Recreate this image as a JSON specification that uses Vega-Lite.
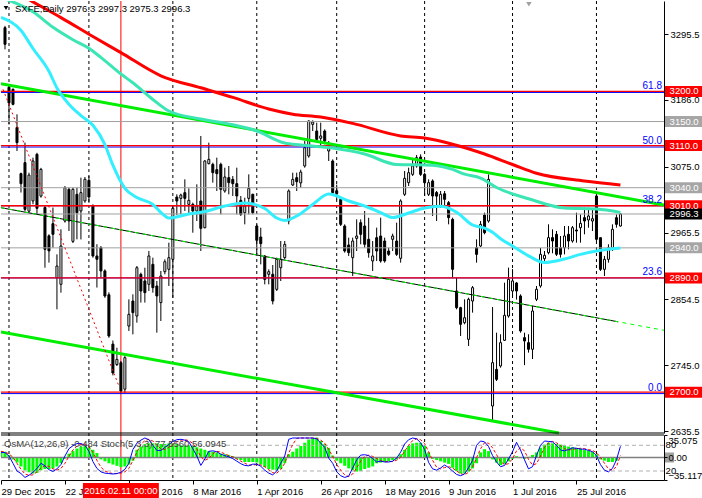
{
  "$schema": "https://vega.github.io/schema/vega-lite/v6.json",
  "background": "white",
  "padding": 0,
  "width": 663,
  "height": 479,
  "config": {
    "view": {"stroke": null},
    "scale": {"continuousPadding": 0},
    "axis": {"labelFont": "Liberation Sans", "labelFontSize": 9.5, "labelColor": "#000000", "tickColor": "#000000", "domainColor": "#000000", "grid": false},
    "text": {"font": "Liberation Sans", "fontSize": 9.5}
  },
  "datasets": {
    "months": [{"i": 0}, {"i": 20}, {"i": 41}, {"i": 62}, {"i": 82}, {"i": 104}, {"i": 126}, {"i": 147}],
    "candles": [
      {"i": -1, "o": 3306, "h": 3309, "l": 3270, "c": 3278.4},
      {"i": 0, "o": 3207, "h": 3212, "l": 3145, "c": 3181},
      {"i": 1, "o": 3203.6, "h": 3205, "l": 3177, "c": 3178.6},
      {"i": 2, "o": 3140, "h": 3162, "l": 3101, "c": 3115},
      {"i": 3, "o": 3063.4, "h": 3065, "l": 3032, "c": 3046.7},
      {"i": 4, "o": 3081.6, "h": 3115, "l": 3001, "c": 3004},
      {"i": 5, "o": 3001, "h": 3065, "l": 2998.5, "c": 3061},
      {"i": 6, "o": 3018, "h": 3090, "l": 3012.4, "c": 3084.4},
      {"i": 7, "o": 3095.5, "h": 3098, "l": 2995.7, "c": 3005.7},
      {"i": 8, "o": 3026, "h": 3073, "l": 3023.5, "c": 3070.5},
      {"i": 9, "o": 3007, "h": 3009.6, "l": 2907, "c": 2937.5},
      {"i": 10, "o": 2960, "h": 2962.5, "l": 2915.4, "c": 2935},
      {"i": 11, "o": 2980.2, "h": 3007, "l": 2940.4, "c": 2962.5},
      {"i": 12, "o": 2890.4, "h": 2929.2, "l": 2837.8, "c": 2909.8},
      {"i": 13, "o": 2879.4, "h": 2970.8, "l": 2865.5, "c": 2943.1},
      {"i": 14, "o": 2984.6, "h": 3042.8, "l": 2982, "c": 3040},
      {"i": 15, "o": 3037.3, "h": 3040, "l": 2968, "c": 2984.6},
      {"i": 16, "o": 2950.8, "h": 3040, "l": 2948, "c": 3037.3},
      {"i": 17, "o": 3029, "h": 3040, "l": 2954.2, "c": 2998.5},
      {"i": 18, "o": 3001.3, "h": 3056.7, "l": 2954, "c": 3031.8},
      {"i": 19, "o": 3018, "h": 3057.8, "l": 3015, "c": 3054},
      {"i": 20, "o": 3052.3, "h": 3059.5, "l": 3015, "c": 3024.5},
      {"i": 21, "o": 3009.6, "h": 3012.4, "l": 2923.7, "c": 2926.5},
      {"i": 22, "o": 2926.5, "h": 2946, "l": 2874, "c": 2921},
      {"i": 23, "o": 2940.3, "h": 2943, "l": 2890, "c": 2901.6},
      {"i": 24, "o": 2901.6, "h": 2904.3, "l": 2857, "c": 2860},
      {"i": 25, "o": 2862, "h": 2866, "l": 2790.5, "c": 2793.5},
      {"i": 26, "o": 2780, "h": 2786, "l": 2728, "c": 2732},
      {"i": 27, "o": 2746, "h": 2774, "l": 2743.6, "c": 2754.6},
      {"i": 28, "o": 2749, "h": 2752, "l": 2698, "c": 2702},
      {"i": 29, "o": 2705, "h": 2760, "l": 2699, "c": 2757.4},
      {"i": 30, "o": 2810, "h": 2854.4, "l": 2801.8, "c": 2829.5},
      {"i": 31, "o": 2851.6, "h": 2862.7, "l": 2796.2, "c": 2832.3},
      {"i": 32, "o": 2826.7, "h": 2909.8, "l": 2815.6, "c": 2907},
      {"i": 33, "o": 2896, "h": 2898.8, "l": 2849, "c": 2868.3},
      {"i": 34, "o": 2885, "h": 2907, "l": 2849, "c": 2865.5},
      {"i": 35, "o": 2879.4, "h": 2934.8, "l": 2868.3, "c": 2926.5},
      {"i": 36, "o": 2912.6, "h": 2923.7, "l": 2865.5, "c": 2873.8},
      {"i": 37, "o": 2876.6, "h": 2885, "l": 2799, "c": 2860},
      {"i": 38, "o": 2849, "h": 2901.6, "l": 2818.4, "c": 2893.2},
      {"i": 39, "o": 2900.4, "h": 2920.9, "l": 2896, "c": 2917},
      {"i": 40, "o": 2904.3, "h": 2948.6, "l": 2876.6, "c": 2923.7},
      {"i": 41, "o": 2920.9, "h": 3009.6, "l": 2857.2, "c": 3005.7},
      {"i": 42, "o": 3024.5, "h": 3029, "l": 2994.6, "c": 3017.9},
      {"i": 43, "o": 3022.3, "h": 3030, "l": 2995.7, "c": 3027.9},
      {"i": 44, "o": 3031.7, "h": 3053.9, "l": 3001.3, "c": 3022.3},
      {"i": 45, "o": 3012.3, "h": 3038.9, "l": 2995.7, "c": 3019},
      {"i": 46, "o": 3012.3, "h": 3015.1, "l": 2965.2, "c": 3001.3},
      {"i": 47, "o": 3001.3, "h": 3045.6, "l": 2984.6, "c": 3009.6},
      {"i": 48, "o": 3017.9, "h": 3126, "l": 2934.8, "c": 2972.4},
      {"i": 49, "o": 2973.5, "h": 3086, "l": 2972.4, "c": 3084.4},
      {"i": 50, "o": 3080, "h": 3114.9, "l": 3078.8, "c": 3087.1},
      {"i": 51, "o": 3078.8, "h": 3081.6, "l": 3048.4, "c": 3065},
      {"i": 52, "o": 3070, "h": 3090, "l": 3034.5, "c": 3063.3},
      {"i": 53, "o": 3078.8, "h": 3081.6, "l": 2995.7, "c": 3037.3},
      {"i": 54, "o": 3034.5, "h": 3073.3, "l": 3031.7, "c": 3057.8},
      {"i": 55, "o": 3056.7, "h": 3076.1, "l": 3029, "c": 3048.4},
      {"i": 56, "o": 3053.9, "h": 3059.4, "l": 3026.2, "c": 3046.7},
      {"i": 57, "o": 3046.7, "h": 3073.3, "l": 2995.7, "c": 3026.2},
      {"i": 58, "o": 3019, "h": 3026.2, "l": 2993, "c": 2995.7},
      {"i": 59, "o": 2998.5, "h": 3023.4, "l": 2979.1, "c": 3009.6},
      {"i": 60, "o": 3022.3, "h": 3062.2, "l": 2995.7, "c": 3038.9},
      {"i": 61, "o": 3029, "h": 3030, "l": 2995.7, "c": 2998.5},
      {"i": 62, "o": 2976.3, "h": 2979.1, "l": 2929.2, "c": 2952.5},
      {"i": 63, "o": 2958, "h": 2973.5, "l": 2912.6, "c": 2947},
      {"i": 64, "o": 2926.4, "h": 2928, "l": 2879.3, "c": 2887.6},
      {"i": 65, "o": 2896, "h": 2904.3, "l": 2879.3, "c": 2900.4},
      {"i": 66, "o": 2896, "h": 2911.5, "l": 2846, "c": 2851.6},
      {"i": 67, "o": 2871, "h": 2923.7, "l": 2868.3, "c": 2920.9},
      {"i": 68, "o": 2907, "h": 2951.4, "l": 2884.9, "c": 2920.9},
      {"i": 69, "o": 2923.7, "h": 2951.4, "l": 2920.9, "c": 2945.8},
      {"i": 70, "o": 2984.6, "h": 3037.3, "l": 2979.1, "c": 3034.5},
      {"i": 71, "o": 3044.5, "h": 3065, "l": 3042.8, "c": 3053.9},
      {"i": 72, "o": 3056.7, "h": 3065, "l": 3034.5, "c": 3050},
      {"i": 73, "o": 3048, "h": 3070, "l": 3040, "c": 3066},
      {"i": 74, "o": 3076.1, "h": 3117.6, "l": 3073.3, "c": 3106.5},
      {"i": 75, "o": 3092.7, "h": 3152, "l": 3089.9, "c": 3150.9},
      {"i": 76, "o": 3145.3, "h": 3152, "l": 3134.3, "c": 3149.2},
      {"i": 77, "o": 3134.3, "h": 3148.1, "l": 3117.6, "c": 3120.4},
      {"i": 78, "o": 3122.1, "h": 3148.1, "l": 3109.3, "c": 3126},
      {"i": 79, "o": 3134.3, "h": 3137, "l": 3112.1, "c": 3117.6},
      {"i": 80, "o": 3101, "h": 3117.6, "l": 3084.4, "c": 3106.5},
      {"i": 81, "o": 3084.4, "h": 3087.1, "l": 3029, "c": 3031.7},
      {"i": 82, "o": 3035, "h": 3045, "l": 3020, "c": 3030},
      {"i": 83, "o": 3020.7, "h": 3023.4, "l": 2976.3, "c": 2979.1},
      {"i": 84, "o": 2976.3, "h": 2979.1, "l": 2932, "c": 2934.8},
      {"i": 85, "o": 2944.8, "h": 2957, "l": 2926.5, "c": 2932},
      {"i": 86, "o": 2923.7, "h": 2957, "l": 2893.2, "c": 2951.4},
      {"i": 87, "o": 2955.8, "h": 2987.4, "l": 2934.8, "c": 2959.7},
      {"i": 88, "o": 2981.9, "h": 2987.4, "l": 2945.9, "c": 2962.5},
      {"i": 89, "o": 2976.3, "h": 3001.3, "l": 2940.3, "c": 2945.9},
      {"i": 90, "o": 2954.2, "h": 2990, "l": 2923.7, "c": 2932},
      {"i": 91, "o": 2918.2, "h": 2951.4, "l": 2901.5, "c": 2926.5},
      {"i": 92, "o": 2956.9, "h": 2973.6, "l": 2918.2, "c": 2934.8},
      {"i": 93, "o": 2959.7, "h": 2990.2, "l": 2915.4, "c": 2918.2},
      {"i": 94, "o": 2951.4, "h": 2957, "l": 2915.4, "c": 2918.2},
      {"i": 95, "o": 2934.8, "h": 2940.3, "l": 2926.5, "c": 2929.2},
      {"i": 96, "o": 2954.2, "h": 2963.6, "l": 2934.8, "c": 2959.7},
      {"i": 97, "o": 2951.4, "h": 2981.9, "l": 2926.5, "c": 2929.2},
      {"i": 98, "o": 2922.6, "h": 3020.7, "l": 2915.4, "c": 3017.9},
      {"i": 99, "o": 3029, "h": 3067.8, "l": 3026.2, "c": 3055.6},
      {"i": 100, "o": 3048.4, "h": 3073.3, "l": 3042.8, "c": 3065},
      {"i": 101, "o": 3062.2, "h": 3087.2, "l": 3059.5, "c": 3076.1},
      {"i": 102, "o": 3076.1, "h": 3094.4, "l": 3073.3, "c": 3090},
      {"i": 103, "o": 3091, "h": 3095.5, "l": 3059.5, "c": 3062.2},
      {"i": 104, "o": 3062.2, "h": 3065, "l": 3026.2, "c": 3048.4},
      {"i": 105, "o": 3029, "h": 3053.9, "l": 3026.2, "c": 3048.4},
      {"i": 106, "o": 3051.2, "h": 3053.9, "l": 2993, "c": 3026.2},
      {"i": 107, "o": 3032, "h": 3034.5, "l": 2984.6, "c": 3026},
      {"i": 108, "o": 3009.6, "h": 3034.5, "l": 3006.8, "c": 3029},
      {"i": 109, "o": 3030, "h": 3034.5, "l": 3009.6, "c": 3020.7},
      {"i": 110, "o": 3015.1, "h": 3017.9, "l": 2979.1, "c": 2990.2},
      {"i": 111, "o": 2987.4, "h": 2990.2, "l": 2890.4, "c": 2904.3},
      {"i": 112, "o": 2868.3, "h": 2890.4, "l": 2837.8, "c": 2840.6},
      {"i": 113, "o": 2840.6, "h": 2842, "l": 2793.5, "c": 2812.9},
      {"i": 114, "o": 2815.6, "h": 2854.4, "l": 2812.9, "c": 2823.9},
      {"i": 115, "o": 2787.9, "h": 2857.2, "l": 2776.9, "c": 2854.4},
      {"i": 116, "o": 2851.6, "h": 2876.6, "l": 2832.3, "c": 2873.8},
      {"i": 117, "o": 2940.3, "h": 2954.2, "l": 2915.4, "c": 2929.2},
      {"i": 118, "o": 2943.1, "h": 2984.6, "l": 2941.4, "c": 2979.1},
      {"i": 119, "o": 2994.6, "h": 2998.5, "l": 2962.5, "c": 2965.2},
      {"i": 120, "o": 2984.6, "h": 3062.2, "l": 2981.9, "c": 3053.9},
      {"i": 121, "o": 2677.1, "h": 2841.7, "l": 2652.2, "c": 2749.1},
      {"i": 122, "o": 2738, "h": 2799, "l": 2718.6, "c": 2721.4},
      {"i": 123, "o": 2743.6, "h": 2796.3, "l": 2740.8, "c": 2782.4},
      {"i": 124, "o": 2786.3, "h": 2882.1, "l": 2785.2, "c": 2827.8},
      {"i": 125, "o": 2826.7, "h": 2907.1, "l": 2824, "c": 2887.7},
      {"i": 126, "o": 2868.3, "h": 2904.8, "l": 2860, "c": 2885},
      {"i": 127, "o": 2881.6, "h": 2883.3, "l": 2854, "c": 2868.3},
      {"i": 128, "o": 2860, "h": 2862.7, "l": 2799, "c": 2801.8},
      {"i": 129, "o": 2790.7, "h": 2799, "l": 2745, "c": 2785.2},
      {"i": 130, "o": 2782.4, "h": 2796.3, "l": 2765.8, "c": 2771.4},
      {"i": 131, "o": 2771.4, "h": 2843.3, "l": 2755.2, "c": 2835},
      {"i": 132, "o": 2854.5, "h": 2876.6, "l": 2851.6, "c": 2871.1},
      {"i": 133, "o": 2876.6, "h": 2940, "l": 2873.8, "c": 2929.3},
      {"i": 134, "o": 2922, "h": 2934.8, "l": 2918.2, "c": 2927.6},
      {"i": 135, "o": 2932, "h": 2979.1, "l": 2929.3, "c": 2957},
      {"i": 136, "o": 2957, "h": 2970.8, "l": 2931, "c": 2951.4},
      {"i": 137, "o": 2962.5, "h": 2968, "l": 2926.5, "c": 2929.3},
      {"i": 138, "o": 2940.3, "h": 2959.7, "l": 2923.7, "c": 2929.2},
      {"i": 139, "o": 2940.3, "h": 2976.3, "l": 2929.2, "c": 2959.7},
      {"i": 140, "o": 2962.5, "h": 2976.3, "l": 2937.6, "c": 2951.4},
      {"i": 141, "o": 2951.4, "h": 2976.3, "l": 2948.6, "c": 2973.5},
      {"i": 142, "o": 2969.7, "h": 2998.5, "l": 2948.6, "c": 2968},
      {"i": 143, "o": 2973.5, "h": 2995.7, "l": 2948.6, "c": 2980.8},
      {"i": 144, "o": 2990.2, "h": 3006.8, "l": 2962.5, "c": 2984.6},
      {"i": 145, "o": 2986.3, "h": 3006.8, "l": 2973.5, "c": 2993},
      {"i": 146, "o": 2984.6, "h": 3004, "l": 2968, "c": 2988.5},
      {"i": 147, "o": 3026.2, "h": 3029, "l": 2951.4, "c": 2954.2},
      {"i": 148, "o": 2956.9, "h": 2957, "l": 2901.5, "c": 2904.3},
      {"i": 149, "o": 2904.3, "h": 2926.5, "l": 2893.2, "c": 2920.9},
      {"i": 150, "o": 2920.9, "h": 2945.9, "l": 2915.4, "c": 2940.3},
      {"i": 151, "o": 2940.3, "h": 2979.1, "l": 2934.8, "c": 2970.8},
      {"i": 152, "o": 2990.2, "h": 2995.7, "l": 2973.5, "c": 2979.1},
      {"i": 153, "o": 2976.3, "h": 2997.3, "l": 2975.3, "c": 2996.3}
    ],
    "ma": [
      {"ma": "slow", "i": -2, "p": 3379.5}, {"ma": "slow", "i": 6, "p": 3349}, {"ma": "slow", "i": 13, "p": 3322.8},
      {"ma": "slow", "i": 21, "p": 3291.4}, {"ma": "slow", "i": 28, "p": 3264.6}, {"ma": "slow", "i": 38, "p": 3226.1},
      {"ma": "slow", "i": 48, "p": 3206.1}, {"ma": "slow", "i": 56, "p": 3190.1}, {"ma": "slow", "i": 65, "p": 3170.8},
      {"ma": "slow", "i": 71, "p": 3162.2}, {"ma": "slow", "i": 78, "p": 3157.5}, {"ma": "slow", "i": 86, "p": 3146.9},
      {"ma": "slow", "i": 98, "p": 3126.1}, {"ma": "slow", "i": 104, "p": 3122.6}, {"ma": "slow", "i": 111, "p": 3112.3},
      {"ma": "slow", "i": 119, "p": 3096}, {"ma": "slow", "i": 126, "p": 3078.6}, {"ma": "slow", "i": 132, "p": 3064},
      {"ma": "slow", "i": 144, "p": 3051.2}, {"ma": "slow", "i": 153, "p": 3044.5},
      {"ma": "mid", "i": -2, "p": 3356.2}, {"ma": "mid", "i": 6, "p": 3332.4}, {"ma": "mid", "i": 11, "p": 3306.7},
      {"ma": "mid", "i": 16, "p": 3286.1}, {"ma": "mid", "i": 20, "p": 3271.9}, {"ma": "mid", "i": 23, "p": 3256.6},
      {"ma": "mid", "i": 28, "p": 3229}, {"ma": "mid", "i": 31, "p": 3214.4}, {"ma": "mid", "i": 36, "p": 3186.6},
      {"ma": "mid", "i": 40, "p": 3167.5}, {"ma": "mid", "i": 48, "p": 3154.2}, {"ma": "mid", "i": 56, "p": 3144.6},
      {"ma": "mid", "i": 62, "p": 3134.3}, {"ma": "mid", "i": 69, "p": 3114.2}, {"ma": "mid", "i": 73, "p": 3111},
      {"ma": "mid", "i": 81, "p": 3106}, {"ma": "mid", "i": 89, "p": 3096}, {"ma": "mid", "i": 97, "p": 3078.6},
      {"ma": "mid", "i": 106, "p": 3077.4}, {"ma": "mid", "i": 111, "p": 3070.4}, {"ma": "mid", "i": 114, "p": 3062.5},
      {"ma": "mid", "i": 118, "p": 3056.1}, {"ma": "mid", "i": 122, "p": 3040.3}, {"ma": "mid", "i": 130, "p": 3021.7},
      {"ma": "mid", "i": 139, "p": 3006.3}, {"ma": "mid", "i": 147, "p": 3004.6}, {"ma": "mid", "i": 153, "p": 2999},
      {"ma": "fast", "i": -2, "p": 3323}, {"ma": "fast", "i": 3, "p": 3301.4}, {"ma": "fast", "i": 6, "p": 3271.4},
      {"ma": "fast", "i": 10, "p": 3233.7}, {"ma": "fast", "i": 12, "p": 3205.8}, {"ma": "fast", "i": 15, "p": 3178.8},
      {"ma": "fast", "i": 18, "p": 3159.9}, {"ma": "fast", "i": 21, "p": 3143.8}, {"ma": "fast", "i": 24, "p": 3111.8},
      {"ma": "fast", "i": 26, "p": 3077.4}, {"ma": "fast", "i": 29, "p": 3039}, {"ma": "fast", "i": 32, "p": 3023.7},
      {"ma": "fast", "i": 36, "p": 3012.1}, {"ma": "fast", "i": 38, "p": 2998.8}, {"ma": "fast", "i": 40, "p": 2989.6},
      {"ma": "fast", "i": 45, "p": 2996.3}, {"ma": "fast", "i": 49, "p": 3000.4}, {"ma": "fast", "i": 54, "p": 3009.6},
      {"ma": "fast", "i": 59, "p": 3014.6}, {"ma": "fast", "i": 61, "p": 3012.9}, {"ma": "fast", "i": 64, "p": 3005.4},
      {"ma": "fast", "i": 67, "p": 2989.6}, {"ma": "fast", "i": 69, "p": 2985.5}, {"ma": "fast", "i": 72, "p": 2993},
      {"ma": "fast", "i": 76, "p": 3012.1}, {"ma": "fast", "i": 80, "p": 3029.5}, {"ma": "fast", "i": 85, "p": 3017.9},
      {"ma": "fast", "i": 89, "p": 3009.6}, {"ma": "fast", "i": 93, "p": 2998.6}, {"ma": "fast", "i": 96, "p": 2990.5},
      {"ma": "fast", "i": 100, "p": 2998}, {"ma": "fast", "i": 104, "p": 3006.3}, {"ma": "fast", "i": 108, "p": 3009.1},
      {"ma": "fast", "i": 112, "p": 2999.3}, {"ma": "fast", "i": 116, "p": 2978}, {"ma": "fast", "i": 119, "p": 2973},
      {"ma": "fast", "i": 121, "p": 2965.9}, {"ma": "fast", "i": 123, "p": 2955.2}, {"ma": "fast", "i": 126, "p": 2943.1},
      {"ma": "fast", "i": 130, "p": 2926.8}, {"ma": "fast", "i": 134, "p": 2915.7}, {"ma": "fast", "i": 139, "p": 2921.5},
      {"ma": "fast", "i": 143, "p": 2929.1}, {"ma": "fast", "i": 147, "p": 2934.8}, {"ma": "fast", "i": 153, "p": 2939.8}
    ],
    "trend": [
      {"line": "upper", "i": -2, "p": 3212.9}, {"line": "upper", "i": 163.9, "p": 3011.3},
      {"line": "lower", "i": -2, "p": 2800.1}, {"line": "lower", "i": 137.6, "p": 2632.2},
      {"line": "mid", "i": -2, "p": 3006.8}, {"line": "mid", "i": 163.9, "p": 2803},
      {"line": "midblack", "i": -2, "p": 3006.8}, {"line": "midblack", "i": 152.4, "p": 2817.1},
      {"line": "fibbase", "i": -1.5, "p": 3203.6}, {"line": "fibbase", "i": 27.6, "p": 2708.6}
    ],
    "levels": [
      {"kind": "grey", "p": 3150}, {"kind": "grey", "p": 3040}, {"kind": "grey", "p": 2996.3}, {"kind": "grey", "p": 2940},
      {"kind": "fib", "p": 3198.4}, {"kind": "fib", "p": 3107.6}, {"kind": "fib", "p": 3010}, {"kind": "fib", "p": 2890}, {"kind": "fib", "p": 2697.7},
      {"kind": "red", "p": 3200}, {"kind": "red", "p": 3110}, {"kind": "red", "p": 3010}, {"kind": "red", "p": 2890}, {"kind": "red", "p": 2700}
    ],
    "fiblabels": [
      {"p": 3198.4, "lab": "61.8"}, {"p": 3107.6, "lab": "50.0"}, {"p": 3010, "lab": "38.2"}, {"p": 2890, "lab": "23.6"}, {"p": 2697.7, "lab": "0.0"}
    ],
    "boxes": [
      {"p": 3200, "lab": "3200.0", "kind": "res"}, {"p": 3150, "lab": "3150.0", "kind": "lvl"},
      {"p": 3110, "lab": "3110.0", "kind": "res"}, {"p": 3040, "lab": "3040.0", "kind": "lvl"},
      {"p": 3010, "lab": "3010.0", "kind": "res"}, {"p": 2996.3, "lab": "2996.3", "kind": "bid"},
      {"p": 2940, "lab": "2940.0", "kind": "lvl"}, {"p": 2890, "lab": "2890.0", "kind": "res"},
      {"p": 2700, "lab": "2700.0", "kind": "res"}
    ],
    "osc": [
      {"i": -2, "o": 10, "m": 63, "s": 66}, {"i": -1, "o": 9, "m": 63, "s": 64}, {"i": 0, "o": 4, "m": 55, "s": 60},
      {"i": 1, "o": -3, "m": 38, "s": 52}, {"i": 2, "o": -8, "m": 20, "s": 38}, {"i": 3, "o": -14, "m": 14, "s": 24},
      {"i": 4, "o": -20, "m": 5, "s": 13}, {"i": 5, "o": -23, "m": 10, "s": 10}, {"i": 6, "o": -25, "m": 17, "s": 11},
      {"i": 7, "o": -24, "m": 26, "s": 18}, {"i": 8, "o": -20, "m": 38, "s": 27}, {"i": 9, "o": -18, "m": 32, "s": 32},
      {"i": 10, "o": -18, "m": 23, "s": 31}, {"i": 11, "o": -17, "m": 19, "s": 25}, {"i": 12, "o": -14, "m": 25, "s": 22},
      {"i": 13, "o": -9, "m": 35, "s": 26}, {"i": 14, "o": -2, "m": 55, "s": 38}, {"i": 15, "o": 6, "m": 72, "s": 54},
      {"i": 16, "o": 10, "m": 79, "s": 69}, {"i": 17, "o": 14, "m": 84, "s": 78}, {"i": 18, "o": 17, "m": 84, "s": 82},
      {"i": 19, "o": 18, "m": 80, "s": 83}, {"i": 20, "o": 16, "m": 66, "s": 77}, {"i": 21, "o": 12, "m": 42, "s": 63},
      {"i": 22, "o": 7, "m": 26, "s": 45}, {"i": 23, "o": -3, "m": 18, "s": 29}, {"i": 24, "o": -6, "m": 15, "s": 20},
      {"i": 25, "o": -9, "m": 14, "s": 16}, {"i": 26, "o": -11, "m": 13, "s": 14}, {"i": 27, "o": -13, "m": 14, "s": 14},
      {"i": 28, "o": -15, "m": 17, "s": 15}, {"i": 29, "o": -14, "m": 24, "s": 18}, {"i": 30, "o": -11, "m": 38, "s": 26},
      {"i": 31, "o": -5, "m": 70, "s": 44}, {"i": 32, "o": 12, "m": 85, "s": 64}, {"i": 33, "o": 17, "m": 92, "s": 82},
      {"i": 34, "o": 21, "m": 97, "s": 91}, {"i": 35, "o": 22, "m": 93, "s": 94}, {"i": 36, "o": 22, "m": 80, "s": 90},
      {"i": 37, "o": 22, "m": 68, "s": 80}, {"i": 38, "o": 21, "m": 68, "s": 72}, {"i": 39, "o": 21, "m": 75, "s": 70},
      {"i": 40, "o": 22, "m": 82, "s": 75}, {"i": 41, "o": 22, "m": 89, "s": 82}, {"i": 42, "o": 21, "m": 93, "s": 88},
      {"i": 43, "o": 19, "m": 94, "s": 92}, {"i": 44, "o": 19, "m": 92, "s": 93}, {"i": 45, "o": 19, "m": 88, "s": 91},
      {"i": 46, "o": 18, "m": 72, "s": 84}, {"i": 47, "o": 16, "m": 55, "s": 72}, {"i": 48, "o": 14, "m": 33, "s": 53},
      {"i": 49, "o": 12, "m": 48, "s": 45}, {"i": 50, "o": 10, "m": 66, "s": 49}, {"i": 51, "o": 9, "m": 67, "s": 60},
      {"i": 52, "o": 8, "m": 65, "s": 66}, {"i": 53, "o": 6, "m": 59, "s": 64}, {"i": 54, "o": 5, "m": 56, "s": 60},
      {"i": 55, "o": 4, "m": 53, "s": 56}, {"i": 56, "o": 2, "m": 49, "s": 53}, {"i": 57, "o": -2, "m": 43, "s": 48},
      {"i": 58, "o": -4, "m": 37, "s": 43}, {"i": 59, "o": -7, "m": 33, "s": 38}, {"i": 60, "o": -7, "m": 32, "s": 34},
      {"i": 61, "o": -7, "m": 36, "s": 34}, {"i": 62, "o": -8, "m": 36, "s": 35}, {"i": 63, "o": -11, "m": 31, "s": 34},
      {"i": 64, "o": -15, "m": 22, "s": 30}, {"i": 65, "o": -18, "m": 15, "s": 23}, {"i": 66, "o": -19, "m": 11, "s": 16},
      {"i": 67, "o": -20, "m": 20, "s": 15}, {"i": 68, "o": -18, "m": 38, "s": 23}, {"i": 69, "o": -9, "m": 55, "s": 38},
      {"i": 70, "o": 5, "m": 94, "s": 62}, {"i": 71, "o": 9, "m": 97, "s": 82}, {"i": 72, "o": 14, "m": 97, "s": 96},
      {"i": 73, "o": 18, "m": 97, "s": 97}, {"i": 74, "o": 23, "m": 97, "s": 97}, {"i": 75, "o": 28, "m": 97, "s": 97},
      {"i": 76, "o": 30, "m": 97, "s": 97}, {"i": 77, "o": 31, "m": 95, "s": 96}, {"i": 78, "o": 26, "m": 85, "s": 92},
      {"i": 79, "o": 21, "m": 75, "s": 85}, {"i": 80, "o": 15, "m": 50, "s": 70}, {"i": 81, "o": 3, "m": 38, "s": 54},
      {"i": 82, "o": -5, "m": 18, "s": 35}, {"i": 83, "o": -9, "m": 9, "s": 22}, {"i": 84, "o": -13, "m": 5, "s": 11},
      {"i": 85, "o": -17, "m": 8, "s": 7}, {"i": 86, "o": -20, "m": 27, "s": 13}, {"i": 87, "o": -22, "m": 46, "s": 27},
      {"i": 88, "o": -21, "m": 57, "s": 43}, {"i": 89, "o": -18, "m": 58, "s": 54}, {"i": 90, "o": -16, "m": 56, "s": 57},
      {"i": 91, "o": -14, "m": 49, "s": 54}, {"i": 92, "o": -9, "m": 41, "s": 49}, {"i": 93, "o": -8, "m": 43, "s": 44},
      {"i": 94, "o": -7, "m": 41, "s": 42}, {"i": 95, "o": -6, "m": 41, "s": 42}, {"i": 96, "o": -4, "m": 43, "s": 42},
      {"i": 97, "o": -3, "m": 50, "s": 45}, {"i": 98, "o": 5, "m": 64, "s": 52}, {"i": 99, "o": 12, "m": 83, "s": 66},
      {"i": 100, "o": 18, "m": 93, "s": 80}, {"i": 101, "o": 22, "m": 97, "s": 91}, {"i": 102, "o": 23, "m": 95, "s": 95},
      {"i": 103, "o": 23, "m": 86, "s": 93}, {"i": 104, "o": 18, "m": 70, "s": 84}, {"i": 105, "o": 8, "m": 40, "s": 65},
      {"i": 106, "o": -2, "m": 25, "s": 45}, {"i": 107, "o": -4, "m": 22, "s": 29}, {"i": 108, "o": -6, "m": 27, "s": 25},
      {"i": 109, "o": -8, "m": 34, "s": 28}, {"i": 110, "o": -10, "m": 28, "s": 30}, {"i": 111, "o": -16, "m": 20, "s": 27},
      {"i": 112, "o": -21, "m": 12, "s": 20}, {"i": 113, "o": -25, "m": 9, "s": 14}, {"i": 114, "o": -25, "m": 13, "s": 11},
      {"i": 115, "o": -22, "m": 28, "s": 17}, {"i": 116, "o": -17, "m": 45, "s": 29}, {"i": 117, "o": -9, "m": 80, "s": 51},
      {"i": 118, "o": 8, "m": 90, "s": 72}, {"i": 119, "o": 13, "m": 88, "s": 86}, {"i": 120, "o": 10, "m": 77, "s": 85},
      {"i": 121, "o": -3, "m": 56, "s": 74}, {"i": 122, "o": -8, "m": 41, "s": 58}, {"i": 123, "o": -12, "m": 30, "s": 42},
      {"i": 124, "o": -10, "m": 33, "s": 35}, {"i": 125, "o": -6, "m": 48, "s": 37}, {"i": 126, "o": -2, "m": 65, "s": 49},
      {"i": 127, "o": 2, "m": 87, "s": 67}, {"i": 128, "o": -1, "m": 69, "s": 74}, {"i": 129, "o": -2, "m": 46, "s": 67},
      {"i": 130, "o": 1, "m": 25, "s": 47}, {"i": 131, "o": 4, "m": 30, "s": 34}, {"i": 132, "o": 8, "m": 56, "s": 37},
      {"i": 133, "o": 15, "m": 80, "s": 55}, {"i": 134, "o": 20, "m": 90, "s": 75}, {"i": 135, "o": 23, "m": 89, "s": 86},
      {"i": 136, "o": 22, "m": 88, "s": 89}, {"i": 137, "o": 21, "m": 80, "s": 86}, {"i": 138, "o": 20, "m": 69, "s": 79},
      {"i": 139, "o": 19, "m": 67, "s": 72}, {"i": 140, "o": 17, "m": 70, "s": 69}, {"i": 141, "o": 16, "m": 74, "s": 70},
      {"i": 142, "o": 15, "m": 73, "s": 72}, {"i": 143, "o": 14, "m": 71, "s": 73}, {"i": 144, "o": 12, "m": 71, "s": 72},
      {"i": 145, "o": 11, "m": 68, "s": 70}, {"i": 146, "o": 9, "m": 65, "s": 68}, {"i": 147, "o": 5, "m": 56, "s": 63},
      {"i": 148, "o": -3, "m": 35, "s": 52}, {"i": 149, "o": -5, "m": 22, "s": 38}, {"i": 150, "o": -7, "m": 18, "s": 25},
      {"i": 151, "o": -7, "m": 26, "s": 22}, {"i": 152, "o": -5, "m": 46, "s": 30}, {"i": 153, "o": -0.484, "m": 77.556, "s": 56.0945}
    ]
  },
  "resolve": {"scale": {"y": "independent"}, "axis": {"y": "independent"}},
  "layer": [
    {
      "layer": [
        {
          "data": {"name": "months"},
          "mark": {"type": "rule", "color": "#000000", "strokeWidth": 1, "strokeDash": [3, 3]},
          "encoding": {
            "x": {
              "field": "i", "type": "quantitative", "title": null,
              "scale": {"domain": [-2, 163.9], "nice": false, "zero": false, "padding": 0},
              "axis": {"orient": "bottom", "values": [-2, 14, 30, 46, 62, 78, 94, 110, 126, 142], "labelExpr": "['29 Dec 2015','22 Jan 2016','15 Feb 2016','8 Mar 2016','1 Apr 2016','26 Apr 2016','18 May 2016','9 Jun 2016','1 Jul 2016','25 Jul 2016'][round((datum.value + 2) / 16)]", "labelAlign": "left", "tickSize": 4, "labelPadding": 2, "domain": true, "zindex": 0, "labelOverlap": false, "labelFlush": false, "labelBound": false}
            }
          }
        },
        {
          "data": {"values": [{"i": 28}]},
          "mark": {"type": "rule", "color": "#ff0000", "strokeWidth": 1},
          "encoding": {"x": {"field": "i", "type": "quantitative", "title": null, "scale": {"domain": [-2, 163.9], "nice": false, "zero": false, "padding": 0}}}
        },
        {
          "data": {"name": "candles"},
          "mark": {"type": "rule", "color": "#000000", "strokeWidth": 1},
          "encoding": {
            "x": {"field": "i", "type": "quantitative", "title": null, "scale": {"domain": [-2, 163.9], "nice": false, "zero": false, "padding": 0}},
            "y": {
              "field": "l", "type": "quantitative", "title": null,
              "scale": {"domain": [2632.2, 3350.4], "range": [432, 0], "nice": false, "zero": false, "padding": 0},
              "axis": {"orient": "right", "values": [3295.5, 3240, 3186, 3130.5, 3075, 3021, 2965.5, 2910, 2854.5, 2800.5, 2745, 2689.5, 2635.5], "format": ".1f", "tickSize": 4, "labelPadding": 2, "zindex": 0, "domain": true, "labelOverlap": false}
            },
            "y2": {"field": "h"}
          }
        },
        {
          "data": {"name": "candles"},
          "mark": {"type": "bar", "width": 2, "stroke": "#000000", "strokeWidth": 1},
          "encoding": {
            "x": {"field": "i", "type": "quantitative", "title": null, "scale": {"domain": [-2, 163.9], "nice": false, "zero": false, "padding": 0}},
            "y": {"field": "o", "type": "quantitative", "title": null, "scale": {"domain": [2632.2, 3350.4], "range": [432, 0], "nice": false, "zero": false, "padding": 0}},
            "y2": {"field": "c"},
            "fill": {"condition": {"test": "datum.c >= datum.o", "value": "#ffffff"}, "value": "#000000"}
          }
        },
        {
          "data": {"name": "levels"},
          "transform": [{"filter": "datum.kind === 'grey'"}],
          "mark": {"type": "rule", "color": "#a0a0a0", "strokeWidth": 1},
          "encoding": {"y": {"field": "p", "type": "quantitative", "title": null, "scale": {"domain": [2632.2, 3350.4], "range": [432, 0], "nice": false, "zero": false, "padding": 0}}}
        },
        {
          "data": {"name": "levels"},
          "transform": [{"filter": "datum.kind === 'fib'"}],
          "mark": {"type": "rule", "color": "#0000ff", "strokeWidth": 1},
          "encoding": {"y": {"field": "p", "type": "quantitative", "title": null, "scale": {"domain": [2632.2, 3350.4], "range": [432, 0], "nice": false, "zero": false, "padding": 0}}}
        },
        {
          "data": {"name": "levels"},
          "transform": [{"filter": "datum.kind === 'red'"}],
          "mark": {"type": "rule", "color": "#ff0000", "strokeWidth": 1.3},
          "encoding": {"y": {"field": "p", "type": "quantitative", "title": null, "scale": {"domain": [2632.2, 3350.4], "range": [432, 0], "nice": false, "zero": false, "padding": 0}}}
        },
        {
          "data": {"name": "trend"},
          "transform": [{"filter": "datum.line === 'midblack'"}],
          "mark": {"type": "line", "color": "#000000", "strokeWidth": 1, "clip": true},
          "encoding": {
            "x": {"field": "i", "type": "quantitative", "title": null, "scale": {"domain": [-2, 163.9], "nice": false, "zero": false, "padding": 0}},
            "y": {"field": "p", "type": "quantitative", "title": null, "scale": {"domain": [2632.2, 3350.4], "range": [432, 0], "nice": false, "zero": false, "padding": 0}}
          }
        },
        {
          "data": {"name": "trend"},
          "transform": [{"filter": "datum.line === 'mid'"}],
          "mark": {"type": "line", "color": "#00ff00", "strokeWidth": 1, "strokeDash": [4, 4], "clip": true},
          "encoding": {
            "x": {"field": "i", "type": "quantitative", "title": null, "scale": {"domain": [-2, 163.9], "nice": false, "zero": false, "padding": 0}},
            "y": {"field": "p", "type": "quantitative", "title": null, "scale": {"domain": [2632.2, 3350.4], "range": [432, 0], "nice": false, "zero": false, "padding": 0}}
          }
        },
        {
          "data": {"name": "trend"},
          "transform": [{"filter": "datum.line === 'upper' || datum.line === 'lower'"}],
          "mark": {"type": "line", "color": "#00ee00", "strokeWidth": 3, "clip": true},
          "encoding": {
            "x": {"field": "i", "type": "quantitative", "title": null, "scale": {"domain": [-2, 163.9], "nice": false, "zero": false, "padding": 0}},
            "y": {"field": "p", "type": "quantitative", "title": null, "scale": {"domain": [2632.2, 3350.4], "range": [432, 0], "nice": false, "zero": false, "padding": 0}},
            "detail": {"field": "line"}
          }
        },
        {
          "data": {"name": "trend"},
          "transform": [{"filter": "datum.line === 'fibbase'"}],
          "mark": {"type": "line", "color": "#ff0000", "strokeWidth": 1, "strokeDash": [2, 3], "clip": true},
          "encoding": {
            "x": {"field": "i", "type": "quantitative", "title": null, "scale": {"domain": [-2, 163.9], "nice": false, "zero": false, "padding": 0}},
            "y": {"field": "p", "type": "quantitative", "title": null, "scale": {"domain": [2632.2, 3350.4], "range": [432, 0], "nice": false, "zero": false, "padding": 0}}
          }
        },
        {
          "data": {"name": "ma"},
          "mark": {"type": "line", "strokeWidth": 3, "interpolate": "monotone", "clip": true},
          "encoding": {
            "x": {"field": "i", "type": "quantitative", "title": null, "scale": {"domain": [-2, 163.9], "nice": false, "zero": false, "padding": 0}},
            "y": {"field": "p", "type": "quantitative", "title": null, "scale": {"domain": [2632.2, 3350.4], "range": [432, 0], "nice": false, "zero": false, "padding": 0}},
            "stroke": {"field": "ma", "type": "nominal", "scale": {"domain": ["slow", "mid", "fast"], "range": ["#ff0000", "#3ce6b4", "#33eeff"]}, "legend": null}
          }
        },
        {
          "data": {"name": "fiblabels"},
          "mark": {"type": "text", "color": "#0000ff", "align": "right", "baseline": "bottom", "dy": -1, "fontSize": 10, "font": "Liberation Sans"},
          "encoding": {
            "x": {"datum": 163.4, "type": "quantitative", "title": null, "scale": {"domain": [-2, 163.9], "nice": false, "zero": false, "padding": 0}},
            "y": {"field": "p", "type": "quantitative", "title": null, "scale": {"domain": [2632.2, 3350.4], "range": [432, 0], "nice": false, "zero": false, "padding": 0}},
            "text": {"field": "lab"}
          }
        },
        {
          "data": {"name": "boxes"},
          "mark": {"type": "bar", "orient": "horizontal", "size": 11},
          "encoding": {
            "x": {"datum": 164.15, "type": "quantitative", "title": null, "scale": {"domain": [-2, 163.9], "nice": false, "zero": false, "padding": 0}},
            "x2": {"datum": 173.7},
            "y": {"field": "p", "type": "quantitative", "title": null, "scale": {"domain": [2632.2, 3350.4], "range": [432, 0], "nice": false, "zero": false, "padding": 0}},
            "fill": {"field": "kind", "type": "nominal", "scale": {"domain": ["res", "lvl", "bid"], "range": ["#ff0000", "#a6a6a6", "#000000"]}, "legend": null}
          }
        },
        {
          "data": {"name": "boxes"},
          "mark": {"type": "text", "color": "#ffffff", "align": "left", "baseline": "middle", "fontSize": 9.5, "font": "Liberation Sans"},
          "encoding": {
            "x": {"datum": 165.3, "type": "quantitative", "title": null, "scale": {"domain": [-2, 163.9], "nice": false, "zero": false, "padding": 0}},
            "y": {"field": "p", "type": "quantitative", "title": null, "scale": {"domain": [2632.2, 3350.4], "range": [432, 0], "nice": false, "zero": false, "padding": 0}},
            "text": {"field": "lab"}
          }
        },
        {
          "data": {"values": [{}]},
          "mark": {"type": "text", "color": "#000000", "align": "left", "baseline": "middle", "fontSize": 9.5, "font": "Liberation Sans"},
          "encoding": {
            "x": {"datum": 1.5, "type": "quantitative", "title": null, "scale": {"domain": [-2, 163.9], "nice": false, "zero": false, "padding": 0}},
            "y": {"datum": 3337.1, "type": "quantitative", "title": null, "scale": {"domain": [2632.2, 3350.4], "range": [432, 0], "nice": false, "zero": false, "padding": 0}},
            "text": {"value": "SXFE,Daily  2976.3 2997.3 2975.3 2996.3"}
          }
        },
        {
          "data": {"values": [{}]},
          "mark": {"type": "point", "shape": "triangle-down", "filled": true, "color": "#000000", "size": 22, "opacity": 1},
          "encoding": {
            "x": {"datum": -0.75, "type": "quantitative", "title": null, "scale": {"domain": [-2, 163.9], "nice": false, "zero": false, "padding": 0}},
            "y": {"datum": 3338.8, "type": "quantitative", "title": null, "scale": {"domain": [2632.2, 3350.4], "range": [432, 0], "nice": false, "zero": false, "padding": 0}}
          }
        },
        {
          "data": {"values": [{}]},
          "mark": {"type": "point", "shape": "triangle-down", "filled": true, "color": "#a0a0a0", "size": 30, "opacity": 1},
          "encoding": {
            "x": {"datum": 130.1, "type": "quantitative", "title": null, "scale": {"domain": [-2, 163.9], "nice": false, "zero": false, "padding": 0}},
            "y": {"datum": 3345, "type": "quantitative", "title": null, "scale": {"domain": [2632.2, 3350.4], "range": [432, 0], "nice": false, "zero": false, "padding": 0}}
          }
        },
        {
          "data": {"values": [{}]},
          "mark": {"type": "rule", "color": "#000000", "strokeWidth": 1},
          "encoding": {"y": {"datum": 2632.2, "type": "quantitative", "title": null, "scale": {"domain": [2632.2, 3350.4], "range": [432, 0], "nice": false, "zero": false, "padding": 0}}}
        }
      ]
    },
    {
      "layer": [
        {
          "data": {"name": "osc"},
          "mark": {"type": "bar", "width": 3, "color": "#00ff00", "clip": true},
          "encoding": {
            "x": {"field": "i", "type": "quantitative", "title": null, "scale": {"domain": [-2, 163.9], "nice": false, "zero": false, "padding": 0}},
            "y": {
              "field": "o", "type": "quantitative", "title": null,
              "scale": {"domain": [-35.117, 35.075], "range": [479, 434], "nice": false, "zero": false, "padding": 0},
              "axis": {"orient": "right", "values": [-35.117, 0, 35.075], "labelExpr": "datum.value === 0 ? '0.00' : format(datum.value, '.3f')", "labelFlush": true, "tickSize": 3, "labelPadding": 1, "domain": true, "zindex": 1, "labelOverlap": false}
            },
            "y2": {"datum": 0}
          }
        },
        {
          "data": {"values": [{}]},
          "mark": {"type": "rule", "color": "#808080", "strokeWidth": 1.5},
          "encoding": {"y": {"datum": 0, "type": "quantitative", "title": null, "scale": {"domain": [-35.117, 35.075], "range": [479, 434], "nice": false, "zero": false, "padding": 0}}}
        },
        {
          "data": {"values": [{}]},
          "mark": {"type": "rule", "color": "#000000", "strokeWidth": 1},
          "encoding": {"y": {"datum": 35.075, "type": "quantitative", "title": null, "scale": {"domain": [-35.117, 35.075], "range": [479, 434], "nice": false, "zero": false, "padding": 0}}}
        },
        {
          "data": {"values": [{}]},
          "mark": {"type": "bar", "orient": "horizontal", "size": 10, "color": "#a0a0a0"},
          "encoding": {
            "x": {"datum": 164.15, "type": "quantitative", "title": null, "scale": {"domain": [-2, 163.9], "nice": false, "zero": false, "padding": 0}},
            "x2": {"datum": 166.4},
            "y": {"datum": 0, "type": "quantitative", "title": null, "scale": {"domain": [-35.117, 35.075], "range": [479, 434], "nice": false, "zero": false, "padding": 0}}
          }
        }
      ]
    },
    {
      "layer": [
        {
          "data": {"values": [{"s": 80}, {"s": 20}]},
          "mark": {"type": "rule", "color": "#b0b0b0", "strokeWidth": 1, "strokeDash": [4, 3]},
          "encoding": {"y": {"field": "s", "type": "quantitative", "title": null, "scale": {"domain": [-1, 104], "range": [479, 434], "nice": false, "zero": false, "padding": 0}, "axis": null}}
        },
        {
          "data": {"name": "osc"},
          "mark": {"type": "line", "color": "#ff0000", "strokeWidth": 1, "strokeDash": [3, 2], "clip": true},
          "encoding": {
            "x": {"field": "i", "type": "quantitative", "title": null, "scale": {"domain": [-2, 163.9], "nice": false, "zero": false, "padding": 0}},
            "y": {"field": "s", "type": "quantitative", "title": null, "scale": {"domain": [-1, 104], "range": [479, 434], "nice": false, "zero": false, "padding": 0}, "axis": null}
          }
        },
        {
          "data": {"name": "osc"},
          "mark": {"type": "line", "color": "#0000ff", "strokeWidth": 1, "clip": true},
          "encoding": {
            "x": {"field": "i", "type": "quantitative", "title": null, "scale": {"domain": [-2, 163.9], "nice": false, "zero": false, "padding": 0}},
            "y": {"field": "m", "type": "quantitative", "title": null, "scale": {"domain": [-1, 104], "range": [479, 434], "nice": false, "zero": false, "padding": 0}, "axis": null}
          }
        },
        {
          "data": {"values": [{"s": 80, "t": "80"}, {"s": 20, "t": "20"}]},
          "mark": {"type": "text", "color": "#000000", "align": "left", "baseline": "middle", "fontSize": 9.5, "font": "Liberation Sans"},
          "encoding": {
            "x": {"datum": 164.3, "type": "quantitative", "title": null, "scale": {"domain": [-2, 163.9], "nice": false, "zero": false, "padding": 0}},
            "y": {"field": "s", "type": "quantitative", "title": null, "scale": {"domain": [-1, 104], "range": [479, 434], "nice": false, "zero": false, "padding": 0}, "axis": null},
            "text": {"field": "t"}
          }
        },
        {
          "data": {"values": [{}]},
          "mark": {"type": "text", "color": "#404040", "align": "left", "baseline": "middle", "fontSize": 9.5, "font": "Liberation Sans"},
          "encoding": {
            "x": {"datum": -1.25, "type": "quantitative", "title": null, "scale": {"domain": [-2, 163.9], "nice": false, "zero": false, "padding": 0}},
            "y": {"datum": 83, "type": "quantitative", "title": null, "scale": {"domain": [-1, 104], "range": [479, 434], "nice": false, "zero": false, "padding": 0}, "axis": null},
            "text": {"value": "OsMA(12,26,9) -0.484  Stoch(5,3,3) 77.5560 56.0945"}
          }
        },
        {
          "data": {"values": [{}]},
          "mark": {"type": "bar", "orient": "horizontal", "size": 15, "color": "#ff0000"},
          "encoding": {
            "x": {"datum": 18.5, "type": "quantitative", "title": null, "scale": {"domain": [-2, 163.9], "nice": false, "zero": false, "padding": 0}},
            "x2": {"datum": 37.5},
            "y": {"datum": -25.5, "type": "quantitative", "title": null, "scale": {"domain": [-1, 104], "range": [479, 434], "nice": false, "zero": false, "padding": 0}, "axis": null}
          }
        },
        {
          "data": {"values": [{}]},
          "mark": {"type": "text", "color": "#ffffff", "align": "center", "baseline": "middle", "fontSize": 9.5, "font": "Liberation Sans"},
          "encoding": {
            "x": {"datum": 28, "type": "quantitative", "title": null, "scale": {"domain": [-2, 163.9], "nice": false, "zero": false, "padding": 0}},
            "y": {"datum": -25.5, "type": "quantitative", "title": null, "scale": {"domain": [-1, 104], "range": [479, 434], "nice": false, "zero": false, "padding": 0}, "axis": null},
            "text": {"value": "2016.02.11 00:00"}
          }
        }
      ]
    }
  ]
}
